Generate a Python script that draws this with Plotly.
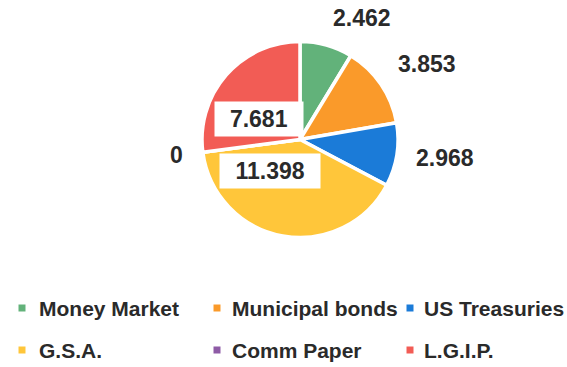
import math
import plotly.graph_objects as go

# Portfolio holdings by investment type
categories = ["Money Market", "Municipal bonds", "US Treasuries", "G.S.A.", "Comm Paper", "L.G.I.P."]
values = [2.462, 3.853, 2.968, 11.398, 0, 7.681]
colors = ["#62B27A", "#FA9A2A", "#1B7BD8", "#FFC63A", "#8E5BA6", "#F25C55"]

W, H = 567, 367
CX, CY, R = 300, 139.5, 98  # pie centre and radius in pixels (from top-left)

FONT = "Liberation Sans, Arial, sans-serif"
TEXT = "#2a2a2a"
LABEL_SIZE = 23

# slices labelled inside a white box, with their pixel offset from the centre
inside_offsets = {"G.S.A.": (-30, 31), "L.G.I.P.": (-41, -20)}

fig = go.Figure(
    go.Pie(
        labels=categories,
        values=values,
        marker=dict(colors=colors, line=dict(color="white", width=3.5)),
        sort=False,
        direction="clockwise",
        rotation=0,
        textinfo="none",
        hoverinfo="label+value",
        showlegend=False,
        domain=dict(
            x=[(CX - R) / W, (CX + R) / W],
            y=[(H - CY - R) / H, (H - CY + R) / H],
        ),
    )
)


def px_to_paper(x, y):
    return x / W, 1 - y / H


def text_width(s, size):
    return sum(0.278 if ch == "." else 0.556 for ch in s) * size


annotations = []
shapes = []
label_font = dict(family=FONT, size=LABEL_SIZE, color=TEXT, weight="bold")
total = sum(values)
cum = 0.0
for name, v in zip(categories, values):
    mid = (cum + v / 2) / total * 2 * math.pi
    cum += v
    label = f"{v:g}"
    if name in inside_offsets:
        dx, dy = inside_offsets[name]
        px, py = px_to_paper(CX + dx, CY + dy)
        annotations.append(dict(
            x=px, y=py, xref="paper", yref="paper", showarrow=False,
            text=label, font=label_font, bgcolor="white", borderpad=5,
            width=text_width(label, LABEL_SIZE) + 20, height=24,
            xanchor="center", yanchor="middle",
        ))
    else:
        s, c = math.sin(mid), math.cos(mid)
        rl = R * 1.18
        lx, ly = CX + rl * s, CY - rl * c
        xanchor = "left" if s > 0.1 else ("right" if s < -0.1 else "center")
        if c > 0.4:
            yanchor, yshift = "bottom", -5
        elif c < -0.4:
            yanchor, yshift = "top", 0
        else:
            yanchor, yshift = "middle", 0
        px, py = px_to_paper(lx, ly)
        annotations.append(dict(
            x=px, y=py, xref="paper", yref="paper", showarrow=False,
            text=label, font=label_font, xanchor=xanchor, yanchor=yanchor,
            yshift=yshift,
        ))

# legend: three columns, two rows
col_marker = [22, 217, 410]
col_text = [37, 230, 422]
row_y = [308, 350]
for i, (name, c) in enumerate(zip(categories, colors)):
    r, k = divmod(i, 3)
    mx, my = col_marker[k], row_y[r]
    shapes.append(dict(
        type="rect", xref="paper", yref="paper",
        x0=(mx - 3.5) / W, x1=(mx + 3.5) / W,
        y0=1 - (my + 3.5) / H, y1=1 - (my - 3.5) / H,
        fillcolor=c, line=dict(width=0),
    ))
    tx, ty = px_to_paper(col_text[k], my)
    annotations.append(dict(
        x=tx, y=ty, xref="paper", yref="paper", showarrow=False,
        text=name, font=dict(family=FONT, size=21, color=TEXT, weight="bold"),
        xanchor="left", yanchor="middle",
    ))

fig.update_layout(
    width=W, height=H,
    margin=dict(l=0, r=0, t=0, b=0),
    paper_bgcolor="white", plot_bgcolor="white",
    annotations=annotations, shapes=shapes,
)

fig.write_html("out.html", config={"displayModeBar": False})
